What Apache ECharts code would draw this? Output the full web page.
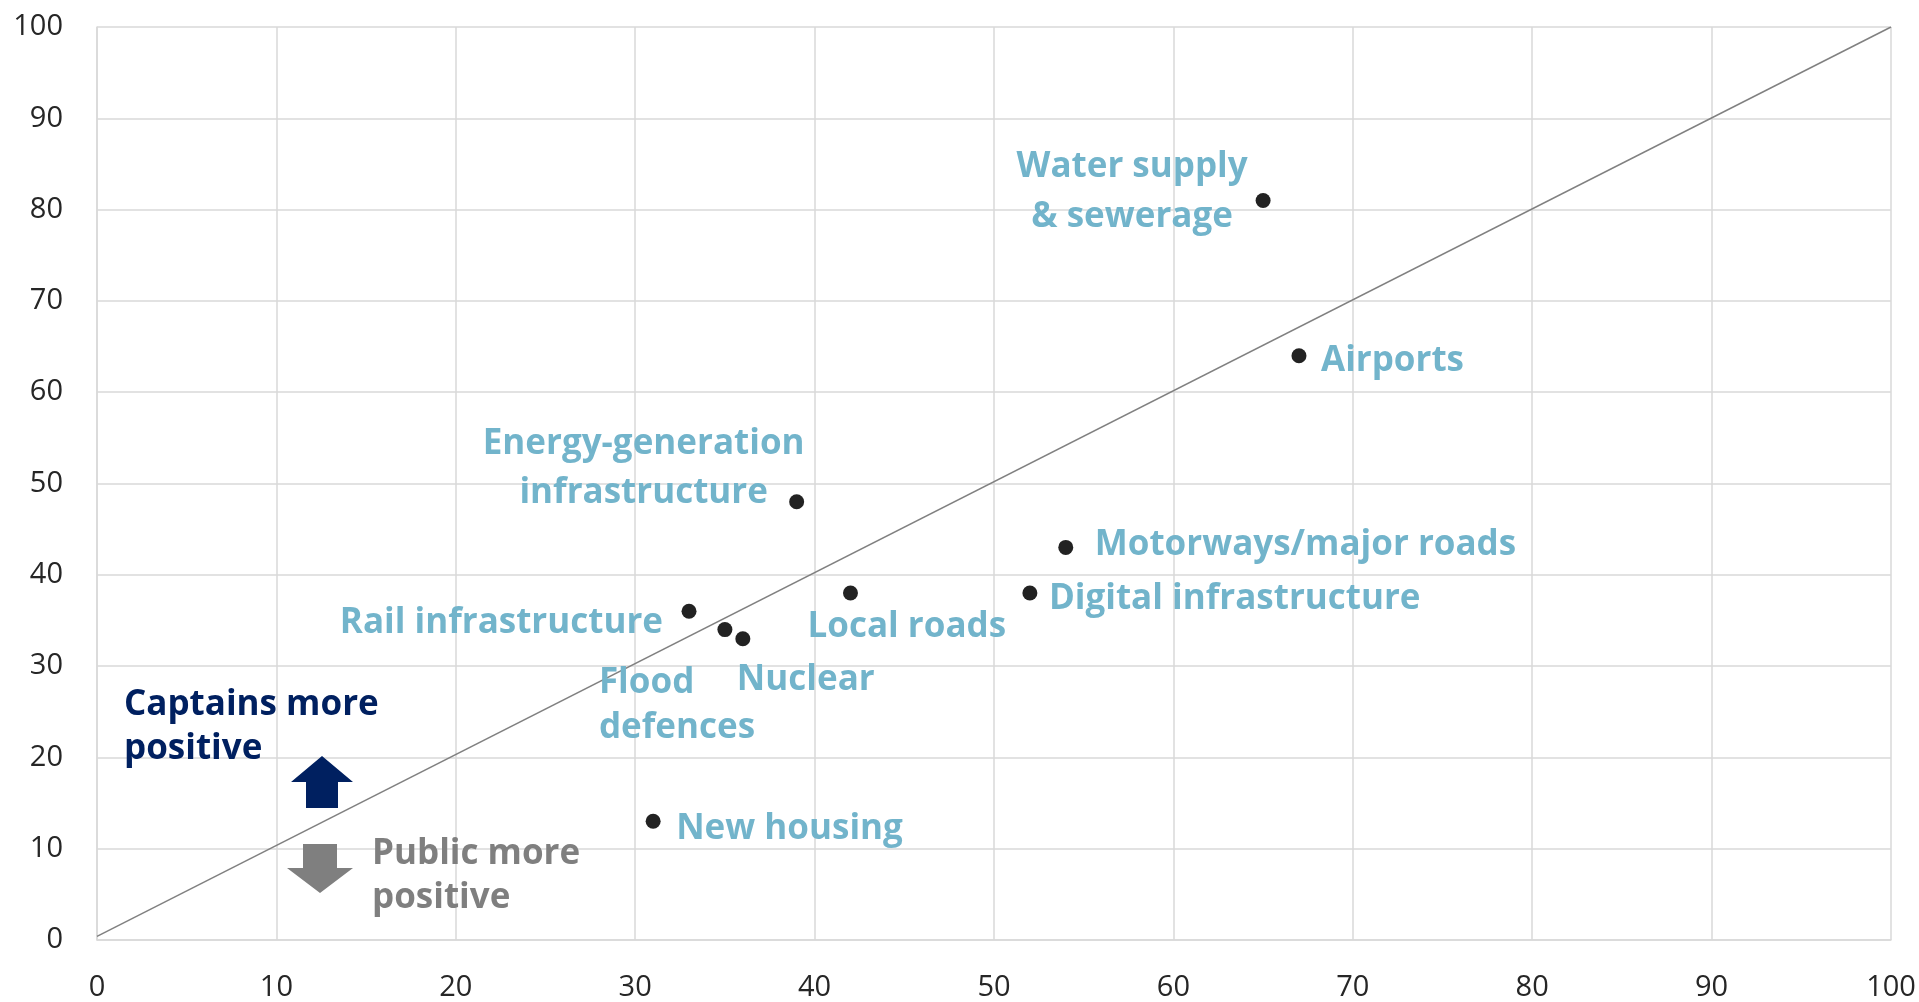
<!DOCTYPE html>
<html>
<head>
<meta charset="utf-8">
<script src="https://cdn.jsdelivr.net/npm/echarts@6/dist/echarts.min.js"></script>
<style>
  html, body { margin: 0; padding: 0; background: #fff; }
  #chart { width: 1919px; height: 1002px; }
</style>
</head>
<body>
<div id="chart"></div>
<script>
// infrastructure types
const sectors = [
  "Water supply\n& sewerage", "Airports", "Energy-generation\ninfrastructure",
  "Motorways/major roads", "Local roads", "Digital infrastructure",
  "Rail infrastructure", "Flood\ndefences", "Nuclear", "New housing"
];
// x: public more positive, y: captains more positive
const publicScores = [65, 67, 39, 54, 42, 52, 33, 35, 36, 31];
const captainScores = [81, 64, 48, 43, 38, 38, 36, 34, 33, 13];
// parity line
const parityLine = [[0, 0.4], [100, 100]];

const FONT = "Open Sans";
const LABEL_BLUE = "#72b4cb";

// label placement relative to each dot (pixels)
const labelLayout = {
  "Water supply\n& sewerage": { align: "center", offset: [-131, -8], lineHeight: 50 },
  "Airports": { align: "left", offset: [22, 5] },
  "Energy-generation\ninfrastructure": { align: "center", offset: [-153, -33], lineHeight: 49 },
  "Motorways/major roads": { align: "left", offset: [29, -2] },
  "Local roads": { align: "left", offset: [-43, 34] },
  "Digital infrastructure": { align: "left", offset: [19, 6] },
  "Rail infrastructure": { align: "right", offset: [-26, 12] },
  "Flood\ndefences": { align: "left", offset: [-126, 76], lineHeight: 45 },
  "Nuclear": { align: "left", offset: [-6, 41] },
  "New housing": { align: "left", offset: [23, 8] }
};

const points = sectors.map((name, i) => {
  const l = labelLayout[name];
  return {
    name: name,
    value: [publicScores[i], captainScores[i]],
    label: {
      show: true,
      position: "inside",
      formatter: "{b}",
      align: l.align,
      verticalAlign: "middle",
      offset: l.offset,
      lineHeight: l.lineHeight || 44,
      color: LABEL_BLUE,
      fontFamily: FONT,
      fontWeight: "bold",
      fontSize: 35
    }
  };
});

const chart = echarts.init(document.getElementById("chart"));

const axisCommon = {
  type: "value",
  min: 0,
  max: 100,
  interval: 10,
  axisLine: { show: true, lineStyle: { color: "#d9d9d9", width: 1.5 } },
  axisTick: { show: false },
  splitLine: { show: true, lineStyle: { color: "#d9d9d9", width: 1.5 } },
  axisLabel: { color: "#262626", fontFamily: FONT, fontSize: 29 }
};

chart.setOption({
  animation: false,
  grid: { left: 97, right: 28, top: 27, bottom: 62, containLabel: false },
  xAxis: Object.assign({}, axisCommon, {
    axisLabel: Object.assign({}, axisCommon.axisLabel, { margin: 33 })
  }),
  yAxis: Object.assign({}, axisCommon, {
    axisLabel: Object.assign({}, axisCommon.axisLabel, { margin: 34 })
  }),
  series: [
    {
      type: "line",
      data: parityLine,
      symbol: "none",
      lineStyle: { color: "#808080", width: 1.5 },
      silent: true,
      z: 1
    },
    {
      type: "scatter",
      data: points,
      symbolSize: 15,
      itemStyle: { color: "#222222", opacity: 1 },
      z: 3
    }
  ],
  graphic: [
    {
      type: "polygon",
      shape: { points: [[322, 756], [353, 782], [338, 782], [338, 808], [306, 808], [306, 782], [291, 782]] },
      style: { fill: "#002060" },
      z: 10
    },
    {
      type: "polygon",
      shape: { points: [[303, 844], [337, 844], [337, 868], [353, 868], [320, 893], [287, 868], [303, 868]] },
      style: { fill: "#7f7f7f" },
      z: 10
    },
    {
      type: "text",
      left: 124,
      top: 683,
      style: {
        text: "Captains more\npositive",
        fill: "#002060",
        font: "bold 35px 'Open Sans'",
        lineHeight: 44
      },
      z: 10
    },
    {
      type: "text",
      left: 372,
      top: 832,
      style: {
        text: "Public more\npositive",
        fill: "#7f7f7f",
        font: "bold 35px 'Open Sans'",
        lineHeight: 44
      },
      z: 10
    }
  ]
});
</script>
</body>
</html>
